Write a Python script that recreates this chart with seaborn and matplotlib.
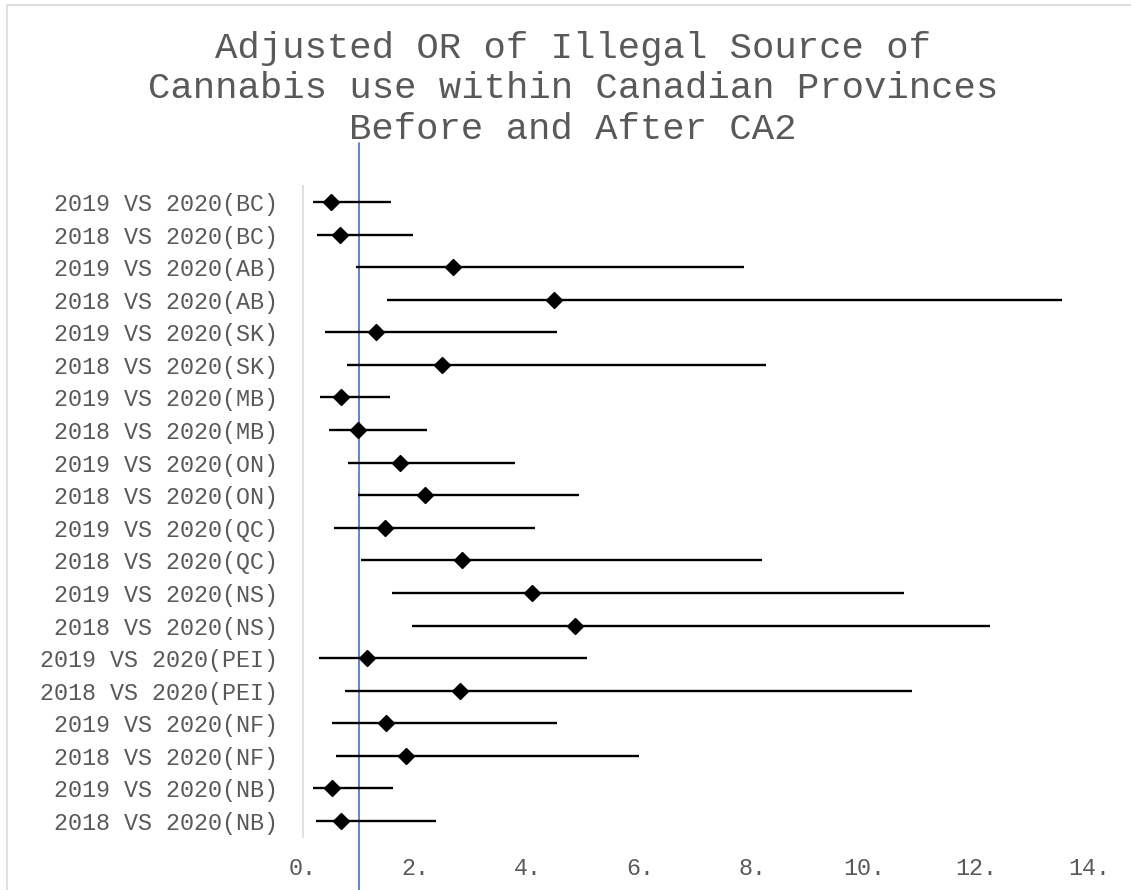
import matplotlib
matplotlib.use("Agg")
import matplotlib.pyplot as plt
from matplotlib.lines import Line2D
import pandas as pd
import seaborn as sns

# Comparison labels, top to bottom
comparisons = [
    "2019 VS 2020(BC)", "2018 VS 2020(BC)",
    "2019 VS 2020(AB)", "2018 VS 2020(AB)",
    "2019 VS 2020(SK)", "2018 VS 2020(SK)",
    "2019 VS 2020(MB)", "2018 VS 2020(MB)",
    "2019 VS 2020(ON)", "2018 VS 2020(ON)",
    "2019 VS 2020(QC)", "2018 VS 2020(QC)",
    "2019 VS 2020(NS)", "2018 VS 2020(NS)",
    "2019 VS 2020(PEI)", "2018 VS 2020(PEI)",
    "2019 VS 2020(NF)", "2018 VS 2020(NF)",
    "2019 VS 2020(NB)", "2018 VS 2020(NB)",
]

# Adjusted odds ratios with 95% confidence limits
odds_ratio = [0.50, 0.66, 2.67, 4.47, 1.30, 2.47, 0.68, 0.98, 1.73, 2.17,
              1.46, 2.83, 4.07, 4.84, 1.14, 2.79, 1.48, 1.84, 0.51, 0.68]
ci_lower = [0.18, 0.25, 0.94, 1.49, 0.39, 0.78, 0.30, 0.46, 0.80, 0.98,
            0.55, 1.03, 1.58, 1.94, 0.28, 0.75, 0.51, 0.59, 0.18, 0.23]
ci_upper = [1.57, 1.96, 7.85, 13.52, 4.52, 8.24, 1.55, 2.21, 3.77, 4.91,
            4.13, 8.17, 10.71, 12.24, 5.05, 10.84, 4.53, 5.99, 1.60, 2.37]

# Reference value (OR = 1)
null_value = 1.0

x_ticks = [0, 2, 4, 6, 8, 10, 12, 14]
x_tick_labels = ["0.", "2.", "4.", "6.", "8.", "10.", "12.", "14."]

title_text = ("Adjusted OR of Illegal Source of\n"
              "Cannabis use within Canadian Provinces\n"
              "Before and After CA2")

df = pd.DataFrame({"comparison": comparisons, "or": odds_ratio,
                   "lo": ci_lower, "hi": ci_upper})

sns.set_style("white")
plt.rcParams["font.family"] = ["Liberation Mono", "DejaVu Sans Mono"]

W, H = 1131, 890
fig = plt.figure(figsize=(W / 100, H / 100), dpi=100)
ax = fig.add_axes([303 / W, (H - 837.3) / H, (1089 - 303) / W, (837.3 - 185.7) / H])

grey_text = "#595959"

# Point estimates
sns.pointplot(data=df, x="or", y="comparison", orient="h", errorbar=None,
              markers="D", linestyles="none", color="black",
              markersize=8.5, markeredgewidth=1.0, ax=ax, zorder=4)

# Confidence-interval whiskers
ax.hlines(y=range(len(df)), xmin=df["lo"], xmax=df["hi"],
          color="black", linewidth=1.7, zorder=3)

# Vertical reference line at OR = 1
ax.axvline(null_value, ymin=-0.081, ymax=1.066, color="#4472C4",
           linewidth=1.2, clip_on=False, zorder=2)

ax.set_xlim(0, 14)
ax.set_ylim(len(df) - 0.5, -0.5)
ax.set_xticks(x_ticks)
ax.set_xticklabels(x_tick_labels)
ax.set_xlabel("")
ax.set_ylabel("")

for side in ["top", "right", "bottom"]:
    ax.spines[side].set_visible(False)
ax.spines["left"].set_color("#D9D9D9")
ax.spines["left"].set_linewidth(1.2)

ax.tick_params(axis="y", length=0, pad=18, labelsize=16.8, labelcolor=grey_text)
ax.tick_params(axis="x", length=0, pad=14, labelsize=16.8, labelcolor=grey_text)

fig.text(573 / W, (H - 89) / H, title_text, ha="center", va="center",
         multialignment="center", fontsize=26.8, color=grey_text,
         linespacing=1.2)

# Chart-area frame
fig.add_artist(Line2D([7 / W, 1.0], [(H - 5) / H, (H - 5) / H],
                      transform=fig.transFigure, color="#D9D9D9", linewidth=1.2))
fig.add_artist(Line2D([7 / W, 7 / W], [0.0, (H - 5) / H],
                      transform=fig.transFigure, color="#D9D9D9", linewidth=1.2))

fig.savefig("out.png", dpi=100, facecolor="white")
